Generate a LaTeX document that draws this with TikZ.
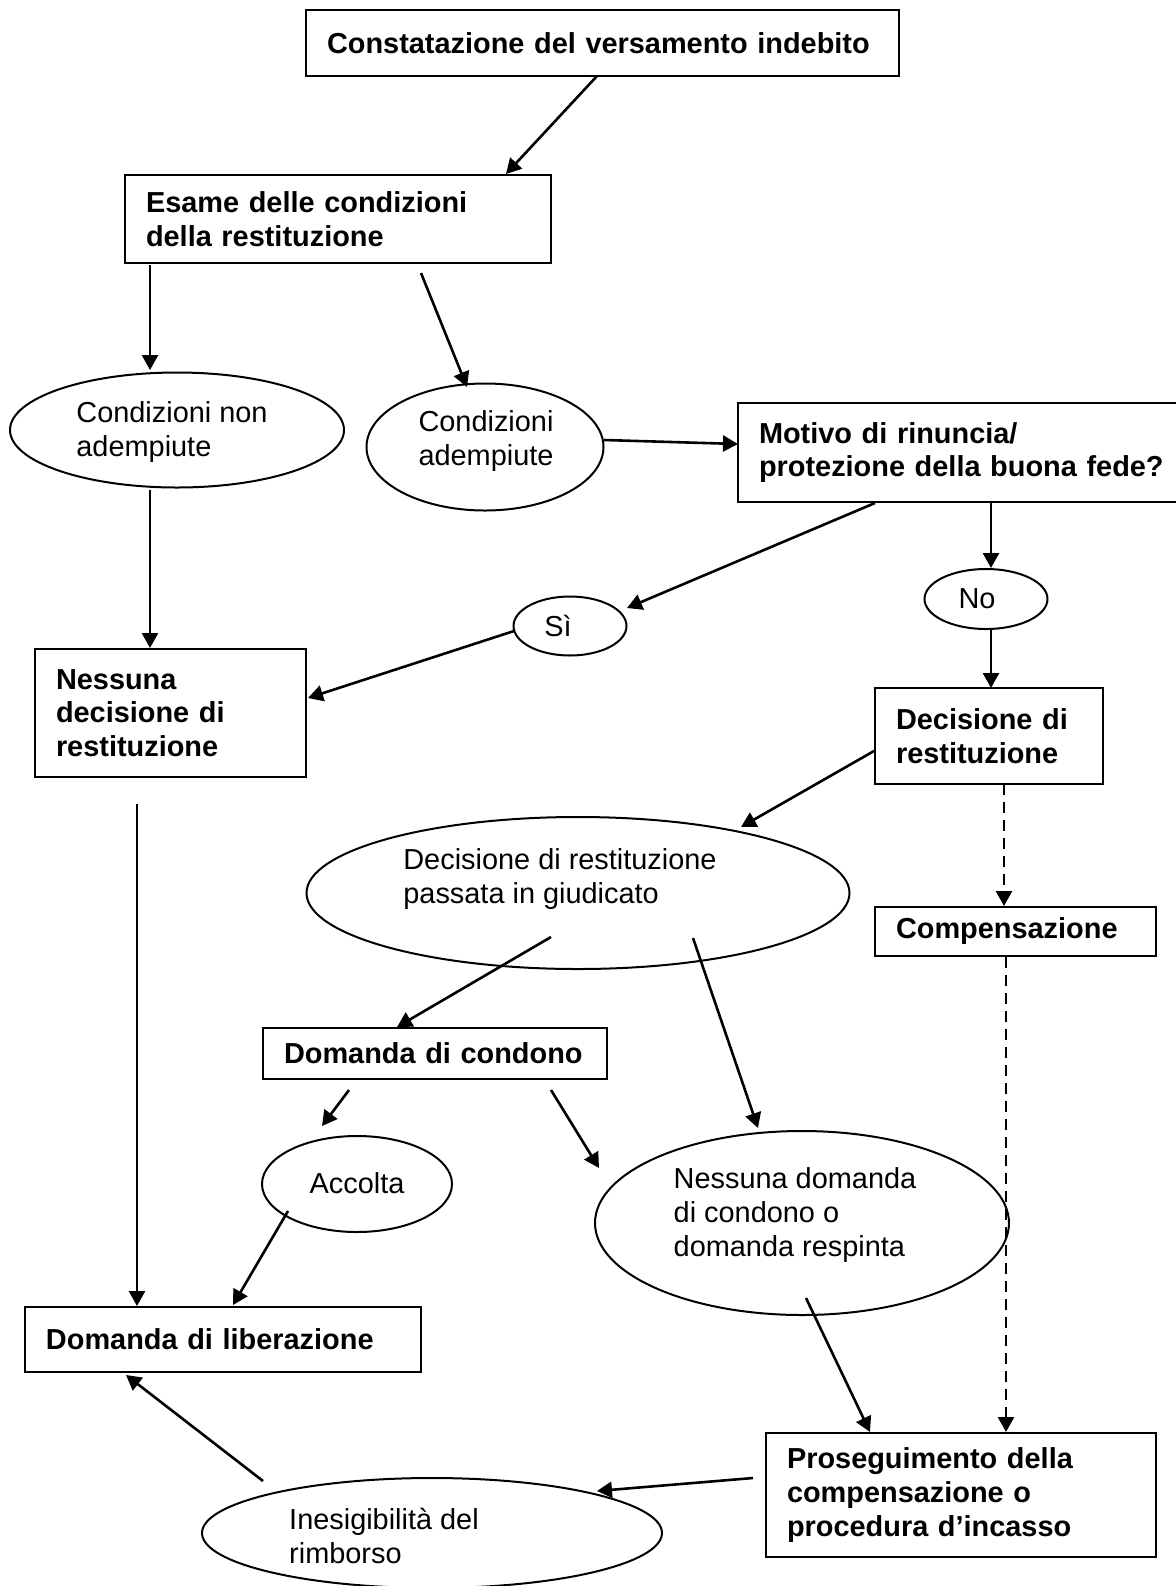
\documentclass[tikz,border=0pt]{standalone}
\usepackage{fontspec}
\setmainfont{Liberation Sans}
\usetikzlibrary{shapes.geometric,arrows.meta}
\begin{document}
\begin{tikzpicture}[x=0.5pt,y=-0.5pt,
  box/.style={draw, line width=1.15pt, rectangle, inner xsep=0pt, inner ysep=0pt, align=left,
    font=\bfseries\fontsize{14.45}{16.9}\selectfont,
    execute at begin node={\leftskip=10.5pt\relax\hyphenpenalty=10000\relax}},
  ell/.style={draw, line width=1pt, ellipse, inner sep=0pt},
  etxt/.style={align=left, inner sep=0pt, font=\fontsize{14.45}{16.9}\selectfont},
  arr/.style={-{Triangle[length=7.5pt,width=8pt]}, line width=1.3pt},
  darr/.style={arr, dash pattern=on 5.5pt off 3.5pt}]
\useasboundingbox (0,0) rectangle (1176,1586);

\node[box, minimum height=33pt, text width=296.5pt] (b1) at (602.5,43) {Constatazione del versamento indebito};
\node[box, minimum height=44pt, text width=213pt] (b2) at (338,219) {Esame delle condizioni\\della restituzione};
\node[ell, minimum width=167pt, minimum height=57.5pt] (e1) at (177,430) {};
\node[etxt] (t1) at (172,432) {Condizioni non\\adempiute};
\node[ell, minimum width=118.5pt, minimum height=63.5pt] (e2) at (485,447) {};
\node[etxt] (t2) at (486,441) {Condizioni\\adempiute};
\node[box, minimum height=49.5pt, text width=224pt] (b3) at (962,452.5) {Motivo di rinuncia/\\protezione della buona fede?};
\node[ell, minimum width=56.5pt, minimum height=29.5pt] (e3) at (570,626) {};
\node[etxt] (t3) at (558,626) {Sì};
\node[ell, minimum width=61.5pt, minimum height=30pt] (e4) at (986,599) {};
\node[etxt] (t4) at (977,599) {No};
\node[box, minimum height=64pt, text width=135.5pt] (b4) at (170.5,713) {Nessuna\\decisione di\\restituzione};
\node[box, minimum height=48pt, text width=114pt] (b5) at (989,736) {Decisione di\\restituzione};
\node[ell, minimum width=271.5pt, minimum height=76pt] (e5) at (578,893) {};
\node[etxt] (t5) at (560,879) {Decisione di restituzione\\passata in giudicato};
\node[box, minimum height=24.5pt, text width=140.5pt] (b6) at (1015.5,931.5) {Compensazione};
\node[box, minimum height=25.5pt, text width=172pt] (b7) at (435,1053.5) {Domanda di condono};
\node[ell, minimum width=95pt, minimum height=48pt] (e6) at (357,1184) {};
\node[etxt] (t6) at (357,1183) {Accolta};
\node[ell, minimum width=207pt, minimum height=92pt] (e7) at (802,1223) {};
\node[etxt] (t7) at (795,1215) {Nessuna domanda\\di condono o\\domanda respinta};
\node[box, minimum height=32.5pt, text width=198pt] (b8) at (223,1339.5) {Domanda di liberazione};
\node[box, minimum height=62pt, text width=195pt] (b9) at (961,1495) {Proseguimento della\\compensazione o\\procedura d’incasso};
\node[ell, minimum width=230pt, minimum height=55pt] (e8) at (432,1533) {};
\node[etxt] (t8) at (384,1536) {Inesigibilità del\\rimborso};

% connector end points
\coordinate (a1s) at (597,76);   \coordinate (a1e) at (506,174);
\coordinate (a2s) at (150,265);  \coordinate (a2e) at (150,370);
\coordinate (a3s) at (421,273);  \coordinate (a3e) at (467,387);
\coordinate (a4s) at (604,440);  \coordinate (a4e) at (738,444);
\coordinate (a5s) at (875,503);  \coordinate (a5e) at (627,608);
\coordinate (a6s) at (514,631);  \coordinate (a6e) at (308,698);
\coordinate (a7s) at (991,503);  \coordinate (a7e) at (991,568);
\coordinate (a8s) at (991,629);  \coordinate (a8e) at (991,688);
\coordinate (a9s) at (874,751);  \coordinate (a9e) at (741,827);
\coordinate (a10s) at (1004,784); \coordinate (a10e) at (1004,906);
\coordinate (a11s) at (150,490); \coordinate (a11e) at (150,648);
\coordinate (a12s) at (137,804); \coordinate (a12e) at (137,1306);
\coordinate (a13s) at (551,937); \coordinate (a13e) at (397,1027);
\coordinate (a14s) at (693,938); \coordinate (a14e) at (758,1128);
\coordinate (a15s) at (349,1090); \coordinate (a15e) at (322,1126);
\coordinate (a16s) at (551,1090); \coordinate (a16e) at (599,1168);
\coordinate (a17s) at (288,1211); \coordinate (a17e) at (233,1305);
\coordinate (a18s) at (806,1298); \coordinate (a18e) at (870,1432);
\coordinate (a19s) at (1006,957); \coordinate (a19e) at (1006,1432);
\coordinate (a20s) at (753,1478); \coordinate (a20e) at (597,1491);
\coordinate (a21s) at (263,1481); \coordinate (a21e) at (126,1375);

\draw[arr] (a1s) -- (a1e);
\draw[arr] (a2s) -- (a2e);
\draw[arr] (a3s) -- (a3e);
\draw[arr] (a4s) -- (a4e);
\draw[arr] (a5s) -- (a5e);
\draw[arr] (a6s) -- (a6e);
\draw[arr] (a7s) -- (a7e);
\draw[arr] (a8s) -- (a8e);
\draw[arr] (a9s) -- (a9e);
\draw[darr] (a10s) -- (a10e);
\draw[arr] (a11s) -- (a11e);
\draw[arr] (a12s) -- (a12e);
\draw[arr] (a13s) -- (a13e);
\draw[arr] (a14s) -- (a14e);
\draw[arr] (a15s) -- (a15e);
\draw[arr] (a16s) -- (a16e);
\draw[arr] (a17s) -- (a17e);
\draw[arr] (a18s) -- (a18e);
\draw[darr] (a19s) -- (a19e);
\draw[arr] (a20s) -- (a20e);
\draw[arr] (a21s) -- (a21e);
\end{tikzpicture}
\end{document}
